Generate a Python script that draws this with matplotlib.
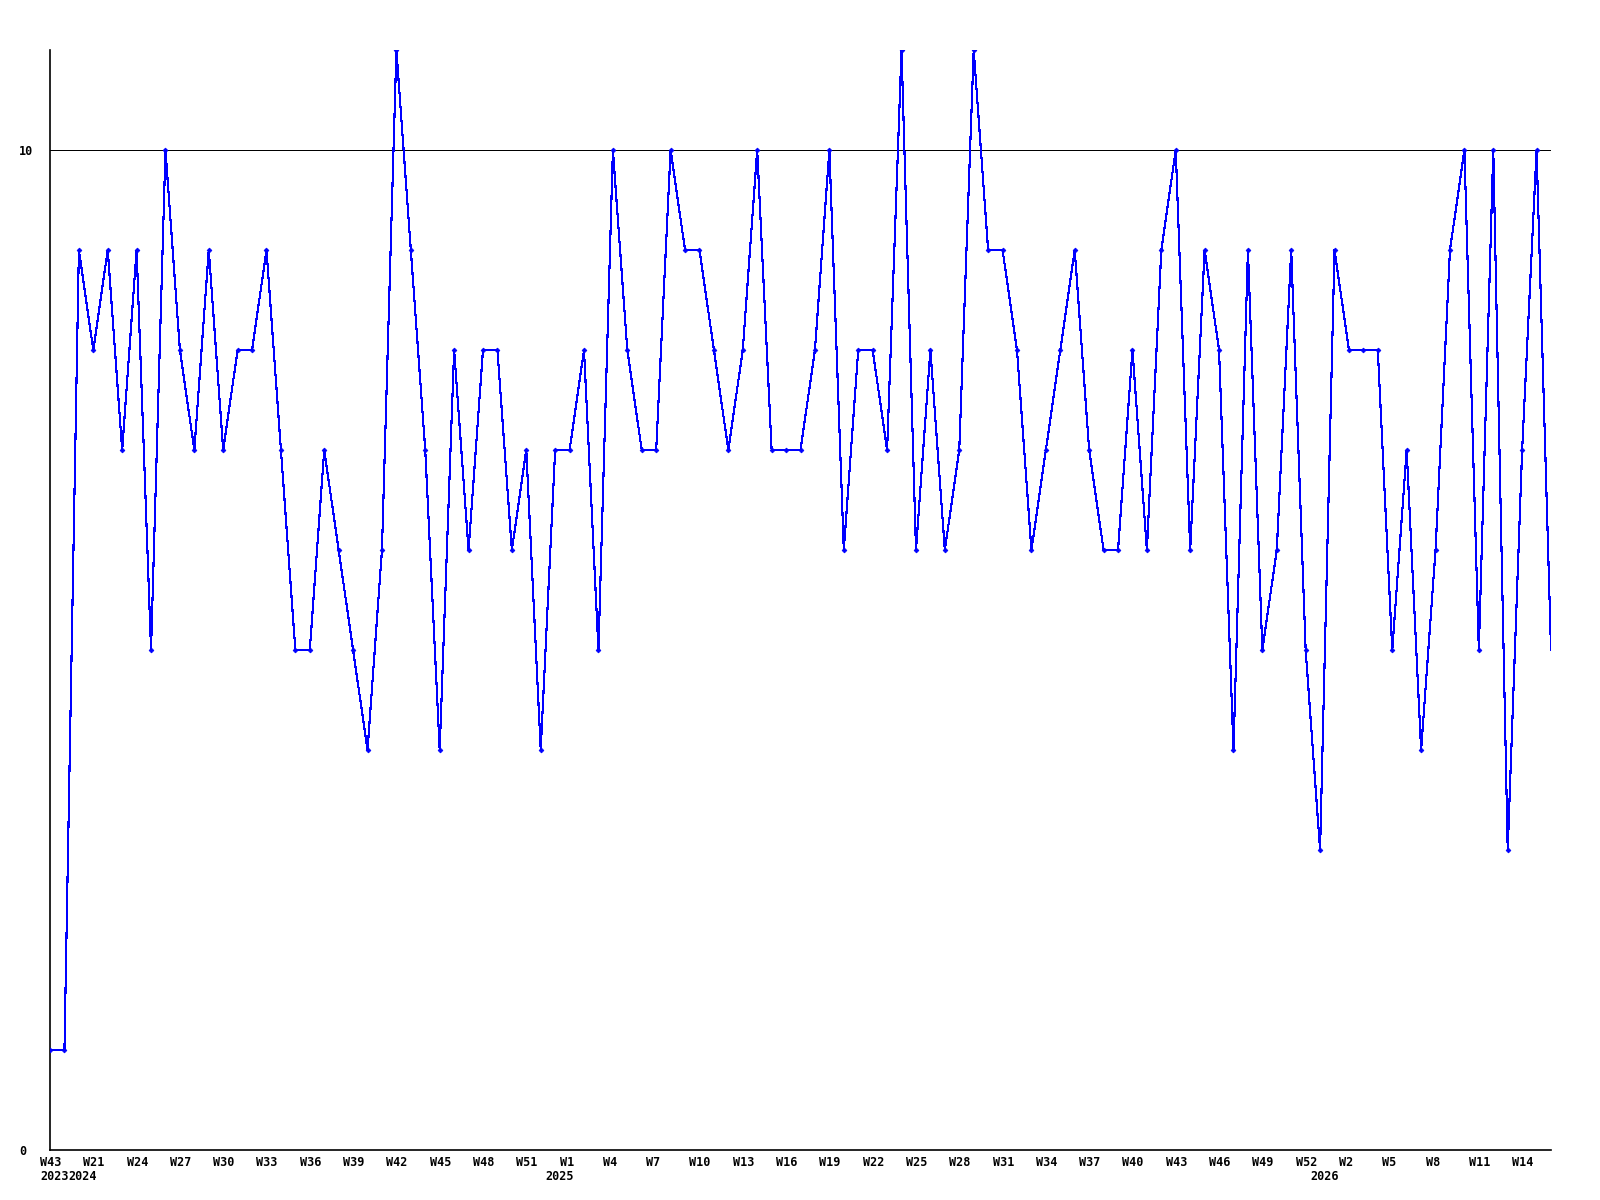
import matplotlib
matplotlib.use("Agg")
import matplotlib.pyplot as plt
import matplotlib.transforms as mtransforms

# weekly counts, one entry per week shown on the chart
counts = [
    1, 1, 9, 8, 9, 7, 9, 5, 10, 8, 7, 9, 7, 8, 8, 9, 7, 5, 5, 7,
    6, 5, 4, 6, 11, 9, 7, 4, 8, 6, 8, 8, 6, 7, 4, 7, 7, 8, 5, 10,
    8, 7, 7, 10, 9, 9, 8, 7, 8, 10, 7, 7, 7, 8, 10, 6, 8, 8, 7, 11,
    6, 8, 6, 7, 11, 9, 9, 8, 6, 7, 8, 9, 7, 6, 6, 8, 6, 9, 10, 6,
    9, 8, 4, 9, 5, 6, 9, 5, 3, 9, 8, 8, 8, 5, 7, 4, 6, 9, 10, 5,
    10, 3, 7, 10, 5,
]
week_years = [2023] + [2024] * 34 + [2025] * 53 + [2026] * 17
week_nums = [43] + list(range(19, 53)) + list(range(0, 53)) + list(range(0, 17))
week_labels = [f"W{n}" for n in week_nums]

y_ticks = [0, 10]
y_max = 11

FONT = "DejaVu Sans Mono"

fig = plt.figure(figsize=(16, 12), dpi=100)
ax = fig.add_axes([50 / 1600, 50 / 1200, 1501 / 1600, 1100 / 1200])

x = list(range(len(counts)))
ax.plot(x, counts, color="#0000ff", linewidth=0.8, antialiased=False,
        marker="D", markersize=2.4, markeredgewidth=0.6,
        markevery=list(range(len(counts) - 1)), zorder=3)

ax.set_xlim(0, len(counts) - 1)
ax.set_ylim(0, y_max)

for s in ["top", "right"]:
    ax.spines[s].set_visible(False)
for s in ["left", "bottom"]:
    ax.spines[s].set_linewidth(1.2)
    ax.spines[s].set_color("black")

# horizontal reference line at 10
ax.axhline(10, color="black", linewidth=0.7, antialiased=False, zorder=2)

# y ticks: left aligned at x=19px
ax.set_yticks(y_ticks)
ax.set_yticklabels([str(v) for v in y_ticks], fontfamily=FONT,
                   fontweight="bold", fontsize=8.5, ha="left")
ax.tick_params(axis="y", length=0, pad=31 * 72 / 100)

# x ticks: every third week, text starts 10px left of the point
tick_idx = x[::3]
ax.set_xticks(tick_idx)
ax.set_xticklabels([week_labels[i] for i in tick_idx], fontfamily=FONT,
                   fontweight="bold", fontsize=8.5, ha="left")
ax.tick_params(axis="x", length=0, pad=4)
offset = mtransforms.ScaledTranslation(-10 / 100, 0, fig.dpi_scale_trans)
for lab in ax.xaxis.get_majorticklabels():
    lab.set_transform(lab.get_transform() + offset)

# year labels under the first week of each year
fig.canvas.draw()
renderer = fig.canvas.get_renderer()
prev_end = None
for i, yr in enumerate(week_years):
    if i > 0 and week_years[i - 1] == yr:
        continue
    px = ax.transData.transform((i, 0))[0] - 10
    if prev_end is not None and px < prev_end:
        px = prev_end
    t = fig.text(px / 1600, 1 - 1177 / 1200, str(yr), fontfamily=FONT,
                 fontweight="bold", fontsize=8.5, ha="left", va="center")
    prev_end = t.get_window_extent(renderer).x1

fig.savefig("out.png", dpi=100, facecolor="white")
